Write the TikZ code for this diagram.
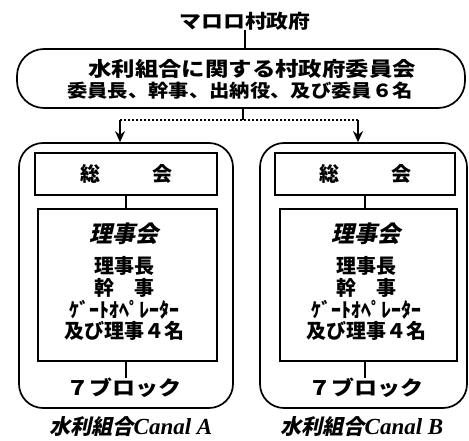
\documentclass[tikz,border=0pt]{standalone}
\usepackage{fontspec}
\usepackage{graphicx}
\usetikzlibrary{arrows.meta}
\newfontfamily\jp{Noto Sans CJK JP}
\newfontfamily\jpsl{Noto Sans CJK JP}[FakeSlant=0.22]
\newfontfamily\lat{Liberation Serif}
\newcommand\setfs[1]{\fontsize{#1}{#1}\selectfont}
\begin{document}
\begin{tikzpicture}[x=1pt,y=-1pt,
  outerbox/.style={draw, line width=1.7pt, rounded corners=24pt, inner sep=0pt},
  inbox/.style={draw, line width=1.4pt, inner sep=0pt},
  txt/.style={inner sep=0pt, font=\jp\bfseries},
  conn/.style={line width=1.4pt},
  dots/.style={line width=1.3pt, dash pattern=on 2pt off 2pt},
  arr/.style={line width=1.4pt, -{Stealth[length=11pt,width=10pt]}}]
\useasboundingbox (0,0) rectangle (469,441);

% title and top committee
\node[txt] (title) at (245,21) {\setfs{19pt}\scalebox{1.15}[1]{マロロ村政府}};
\node[outerbox, rounded corners=27pt, minimum width=448pt, minimum height=59pt] (top) at (241,78.5) {};
\node[txt] (t1) at (252,69) {\setfs{20pt}\scalebox{1.17}[1]{水利組合に関する村政府委員会}};
\node[txt] (t2) at (240,91) {\setfs{18pt}\scalebox{1.13}[1]{委員長、幹事、出納役、及び委員６名}};
\draw[conn] (title.south) -- (title.south |- top.north);

% left union
\node[outerbox, minimum width=214pt, minimum height=265pt] (Lout) at (126,275.5) {};
\node[inbox, minimum width=182pt, minimum height=42pt] (Lg) at (126,174) {};
\node[txt] (Lgt) at (126,174) {\setfs{20pt}総\hspace{52pt}会};
\node[inbox, minimum width=179pt, minimum height=152pt] (Lb) at (127.5,285) {};
\node[inner sep=0pt, font=\jpsl\bfseries] (Lb1) at (124,234) {\setfs{23pt}理事会};
\node[txt] (Lb2) at (124,266) {\setfs{20pt}理事長};
\node[txt] (Lb3) at (124,288) {\setfs{20pt}幹\hspace{1em}事};
\node[txt] (Lb4) at (124,310) {\setfs{20pt}ｹﾞｰﾄｵﾍﾟﾚｰﾀｰ};
\node[txt] (Lb5) at (124,331) {\setfs{20pt}及び理事４名};
\node[txt] (Lblk) at (124,388) {\setfs{20pt}\scalebox{1.15}[1]{７ブロック}};
\node[inner sep=0pt] (Llab) at (131,427) {\jpsl\bfseries\setfs{21pt}水利組合\lat\bfseries\itshape\setfs{23pt}Canal A};
\draw[conn] (Lg.south) -- (Lg.south |- Lb.north);
\draw[conn] (Lg.south |- Lb.south) -- (Lg.south |- Lblk.north);

% right union
\node[outerbox, minimum width=207pt, minimum height=265pt] (Rout) at (363.5,275.5) {};
\node[inbox, minimum width=180pt, minimum height=42pt] (Rg) at (365,174) {};
\node[txt] (Rgt) at (365,174) {\setfs{20pt}総\hspace{52pt}会};
\node[inbox, minimum width=177pt, minimum height=152pt] (Rb) at (368.5,285) {};
\node[inner sep=0pt, font=\jpsl\bfseries] (Rb1) at (366,234) {\setfs{23pt}理事会};
\node[txt] (Rb2) at (366,266) {\setfs{20pt}理事長};
\node[txt] (Rb3) at (366,288) {\setfs{20pt}幹\hspace{1em}事};
\node[txt] (Rb4) at (366,310) {\setfs{20pt}ｹﾞｰﾄｵﾍﾟﾚｰﾀｰ};
\node[txt] (Rb5) at (366,331) {\setfs{20pt}及び理事４名};
\node[txt] (Rblk) at (366,388) {\setfs{20pt}\scalebox{1.15}[1]{７ブロック}};
\node[inner sep=0pt] (Rlab) at (362,427) {\jpsl\bfseries\setfs{21pt}水利組合\lat\bfseries\itshape\setfs{23pt}Canal B};
\draw[conn] (Rg.south) -- (Rg.south |- Rb.north);
\draw[conn] (Rg.south |- Rb.south) -- (Rg.south |- Rblk.north);

% links from committee to unions
\coordinate (j) at (243,120);
\coordinate (la) at (120,120);
\coordinate (ra) at (358,120);
\draw[conn] (j |- top.south) -- (j);
\draw[dots] (la) -- (ra);
\draw[arr] (la) -- (la |- Lout.north);
\draw[arr] (ra) -- (ra |- Rout.north);
\end{tikzpicture}
\end{document}
